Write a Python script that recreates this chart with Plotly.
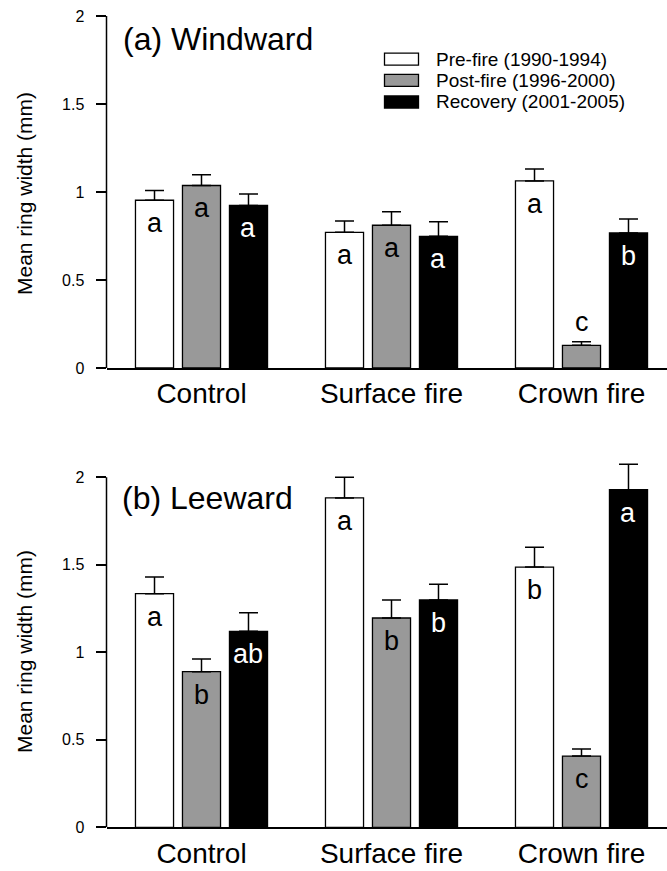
import plotly.graph_objects as go

# ---------------- data ----------------
categories = ["Control", "Surface fire", "Crown fire"]
periods = ["Pre-fire (1990-1994)", "Post-fire (1996-2000)", "Recovery (2001-2005)"]

# (a) Windward
wind_pre = [0.953, 0.771, 1.063]
wind_post = [1.037, 0.811, 0.129]
wind_rec = [0.924, 0.748, 0.767]
wind_pre_se = [0.055, 0.064, 0.068]
wind_post_se = [0.061, 0.077, 0.020]
wind_rec_se = [0.065, 0.083, 0.080]
wind_letters = [["a", "a", "a"], ["a", "a", "c"], ["a", "a", "b"]]

# (b) Leeward
lee_pre = [1.335, 1.882, 1.487]
lee_post = [0.889, 1.196, 0.407]
lee_rec = [1.120, 1.299, 1.929]
lee_pre_se = [0.095, 0.118, 0.113]
lee_post_se = [0.073, 0.103, 0.040]
lee_rec_se = [0.106, 0.090, 0.145]
lee_letters = [["a", "a", "b"], ["b", "b", "c"], ["ab", "b", "a"]]

ytick_vals = [0, 0.5, 1, 1.5, 2]
ytick_text = ["0", "0.5", "1", "1.5", "2"]

# ---------------- style ----------------
W, H = 667, 871
FONT = "Liberation Sans, Arial, sans-serif"
fills = ["#ffffff", "#999999", "#000000"]
letter_colors = ["black", "black", "white"]
BARGAP = 0.258
BARGROUPGAP = 0.19
slot = (1 - BARGAP) / 3


def px(x):
    return x / W


def py(y):
    return 1 - y / H


fig = go.Figure()

panels = [
    ("x", "y", [wind_pre, wind_post, wind_rec], [wind_pre_se, wind_post_se, wind_rec_se], wind_letters),
    ("x2", "y2", [lee_pre, lee_post, lee_rec], [lee_pre_se, lee_post_se, lee_rec_se], lee_letters),
]

annotations = []
shapes = []
xs = list(range(len(categories)))

for xa, ya, series, errs, letters in panels:
    for k in range(3):
        fig.add_trace(go.Bar(
            x=xs, y=series[k], name=periods[k], xaxis=xa, yaxis=ya,
            marker=dict(color=fills[k], line=dict(color="black", width=1.3)),
            error_y=dict(type="data", symmetric=False, array=errs[k],
                         arrayminus=[0] * len(xs), color="black",
                         thickness=1.5, width=9.5),
            showlegend=False,
        ))
        for i in xs:
            v = series[k][i]
            e = errs[k][i]
            xpos = i + (k - 1) * slot
            if v < 0.3:
                annotations.append(dict(
                    x=xpos, y=v + e, xref=xa, yref=ya, text=letters[k][i],
                    showarrow=False, yanchor="bottom", yshift=3,
                    font=dict(family=FONT, size=27, color="black")))
            else:
                annotations.append(dict(
                    x=xpos, y=v, xref=xa, yref=ya, text=letters[k][i],
                    showarrow=False, yanchor="top", yshift=-6,
                    font=dict(family=FONT, size=27, color=letter_colors[k])))

# y-axis lines (drawn from 0 to 2 only)
for xa, ya in [("x", "y"), ("x2", "y2")]:
    shapes.append(dict(type="line", xref=xa + " domain", yref=ya,
                       x0=0, x1=0, y0=0, y1=2,
                       line=dict(color="black", width=1.5)))

# panel titles
annotations.append(dict(x=px(121), y=py(19), xref="paper", yref="paper",
                        text="(a) Windward", showarrow=False, xanchor="left",
                        yanchor="top", font=dict(family=FONT, size=32, color="black")))
annotations.append(dict(x=px(120), y=py(478), xref="paper", yref="paper",
                        text="(b) Leeward", showarrow=False, xanchor="left",
                        yanchor="top", font=dict(family=FONT, size=32, color="black")))

# y titles
for yc in [194, 652]:
    annotations.append(dict(x=px(24), y=py(yc), xref="paper", yref="paper",
                            text="Mean ring width (mm)", showarrow=False,
                            textangle=-90, xanchor="center", yanchor="middle",
                            font=dict(family=FONT, size=21, color="black")))

# legend (manual)
legend_rows = [59.2, 80.3, 102]
for k in range(3):
    yc = legend_rows[k]
    shapes.append(dict(type="rect", xref="paper", yref="paper",
                       x0=px(384.5), x1=px(418.5), y0=py(yc - 6), y1=py(yc + 6),
                       fillcolor=fills[k], line=dict(color="black", width=1.3)))
    annotations.append(dict(x=px(433.5), y=py(yc), xref="paper", yref="paper",
                            text=periods[k], showarrow=False, xanchor="left",
                            yanchor="middle",
                            font=dict(family=FONT, size=19, color="black")))

xdom = [px(106.5), 1.0]
xaxis_common = dict(domain=xdom, range=[-0.5, 2.45], tickvals=xs, ticktext=categories,
                    showline=True, linecolor="black", linewidth=1.5, ticks="",
                    showgrid=False, zeroline=False, ticklabelstandoff=0,
                    automargin=False,
                    tickfont=dict(family=FONT, size=28, color="black"))
yaxis_common = dict(tickvals=ytick_vals, ticktext=ytick_text, ticks="outside",
                    ticklen=10, tickwidth=1.5, tickcolor="black",
                    showline=False, showgrid=False, zeroline=False,
                    ticklabelstandoff=8, automargin=False,
                    tickfont=dict(family=FONT, size=16, color="black"))

fig.update_layout(
    width=W, height=H,
    margin=dict(l=0, r=0, t=0, b=0, pad=0, autoexpand=False),
    autosize=False,
    paper_bgcolor="white", plot_bgcolor="white",
    barmode="group", bargap=BARGAP, bargroupgap=BARGROUPGAP,
    xaxis=dict(anchor="y", **xaxis_common),
    yaxis=dict(anchor="x", domain=[py(368), py(16)], range=[0, 2], **yaxis_common),
    xaxis2=dict(anchor="y2", **xaxis_common),
    yaxis2=dict(anchor="x2", domain=[py(827.3), py(459.8)], range=[0, 2.1], **yaxis_common),
    annotations=annotations,
    shapes=shapes,
    font=dict(family=FONT, color="black"),
)

fig.write_html(
    "out.html",
    config={"displayModeBar": False},
    post_script="document.body.style.margin='0';document.body.style.overflow='hidden';",
)
